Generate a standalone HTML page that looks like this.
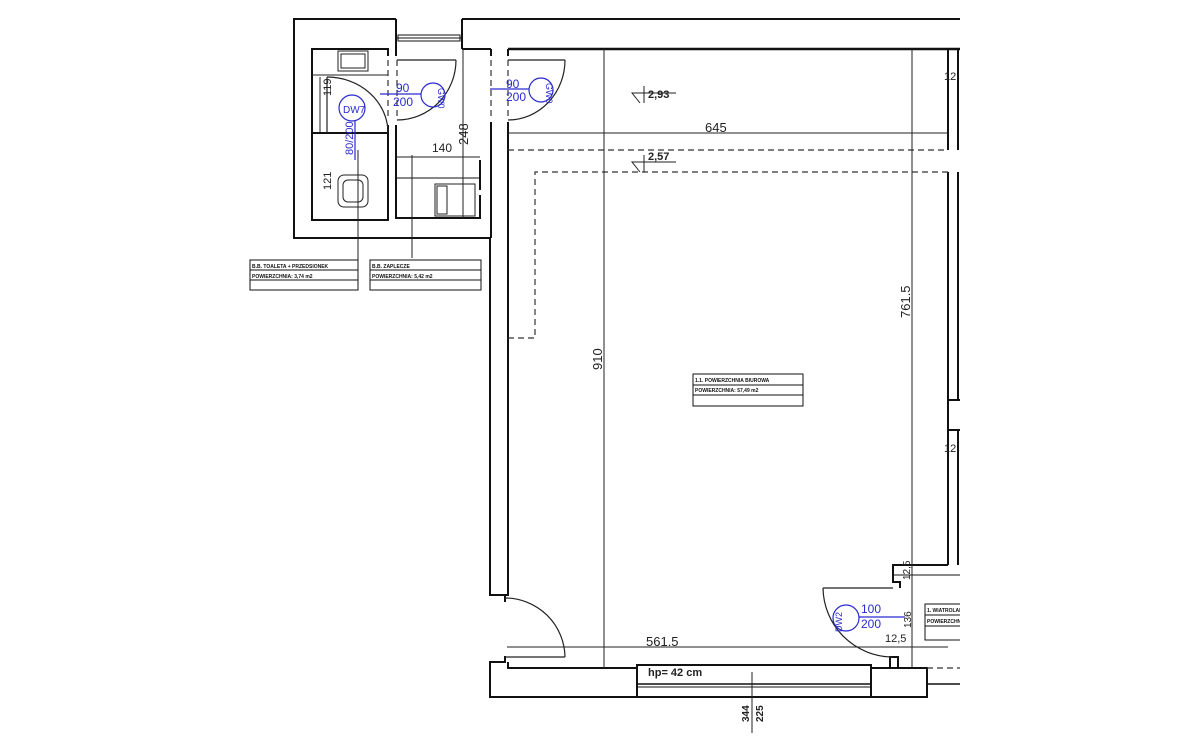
<!DOCTYPE html>
<html><head><meta charset="utf-8"><style>
html,body{margin:0;padding:0;background:#fff}
svg{display:block}
text{font-family:"Liberation Sans",sans-serif}
</style></head><body>
<svg width="1200" height="749" viewBox="0 0 1200 749" xmlns="http://www.w3.org/2000/svg">
<rect width="1200" height="749" fill="#fff"/>
<g fill="none" stroke="#111" stroke-width="2">
<!-- outer left block -->
<polyline points="396,19 294,19 294,238 490,238 490,595 508,595 508,172"/>
<line x1="462" y1="19" x2="960" y2="19"/>
<line x1="396" y1="19" x2="396" y2="49"/>
<line x1="462" y1="19" x2="462" y2="49"/>
<!-- top inner wall -->
<line x1="508" y1="49" x2="960" y2="49" stroke-width="2.5"/>
<line x1="462" y1="49" x2="491" y2="49"/>
<!-- toilet -->
<polyline points="388,56 388,49 312,49 312,220 388,220 388,125"/>
<line x1="312" y1="133" x2="388" y2="133"/>
<line x1="396" y1="49" x2="396" y2="56"/>
<polyline points="396,125 396,218 480,218 480,195"/>
<line x1="480" y1="160" x2="480" y2="190"/>
<line x1="396" y1="157" x2="480" y2="157" stroke-width="1"/>
<line x1="396" y1="178" x2="480" y2="178" stroke-width="1"/>
<!-- corridor walls -->
<line x1="491" y1="49" x2="491" y2="56"/>
<line x1="491" y1="122" x2="491" y2="238"/>
<line x1="508" y1="122" x2="508" y2="172"/>
<line x1="508" y1="49" x2="508" y2="56"/>
<!-- right wall -->
<line x1="948" y1="49" x2="948" y2="150"/>
<line x1="958" y1="49" x2="958" y2="150"/>
<line x1="948" y1="172" x2="948" y2="565"/>
<line x1="958" y1="172" x2="958" y2="400"/>
<line x1="948" y1="400" x2="960" y2="400"/>
<line x1="948" y1="430" x2="960" y2="430"/>
<line x1="958" y1="430" x2="958" y2="565"/>
<polyline points="948,565 893,565 893,582 900,582 900,588"/>
<line x1="893" y1="575" x2="960" y2="575" stroke-width="1"/>
<!-- bottom -->
<polyline points="508,595 505,595 505,602"/>
<polyline points="505,656 505,662 490,662 490,697 637,697 637,668 508,668 508,662"/>
<rect x="637" y="665" width="234" height="32"/>
<line x1="637" y1="684" x2="871" y2="684" stroke-width="1.5"/>
<line x1="637" y1="687" x2="871" y2="687" stroke-width="1"/>
<rect x="871" y="668" width="56" height="29"/>
<rect x="890" y="657" width="8" height="11"/>
<line x1="927" y1="684" x2="960" y2="684" stroke-width="1.5"/>
</g>
<!-- window top -->
<g stroke="#111" fill="none">
<rect x="398" y="35" width="62" height="6" stroke-width="1"/>
<line x1="396" y1="38" x2="462" y2="38" stroke-width="1"/>
</g>
<!-- doors -->
<g fill="none" stroke="#222" stroke-width="1.2">
<line x1="397" y1="60" x2="456" y2="60"/>
<path d="M456,60 A59,60 0 0 1 397,120"/>
<line x1="508" y1="60" x2="565" y2="60"/>
<path d="M565,60 A57,60 0 0 1 508,120"/>
<path d="M327,77 A61,56 0 0 1 388,133"/>
<line x1="327" y1="77" x2="327" y2="133"/>
<path d="M505,598 A60,60 0 0 1 565,657"/>
<line x1="505" y1="657" x2="565" y2="657"/>
<path d="M823,588 A70,70 0 0 0 893,657"/>
<line x1="823" y1="588" x2="893" y2="588"/>
</g>
<g stroke="#333" stroke-width="1.2" stroke-dasharray="6,4" fill="none">
<line x1="388" y1="60" x2="388" y2="120"/>
<line x1="397" y1="60" x2="397" y2="120"/>
<line x1="491" y1="60" x2="491" y2="120"/>
<line x1="508" y1="60" x2="508" y2="120"/>
<line x1="508" y1="150" x2="948" y2="150"/>
<polyline points="948,172 535,172 535,338 508,338"/>
<line x1="927" y1="668" x2="960" y2="668"/>
</g>
<!-- fixtures -->
<g fill="none" stroke="#222" stroke-width="1">
<rect x="338" y="51" width="30" height="20"/>
<rect x="341" y="54" width="24" height="14"/>
<rect x="338" y="175" width="30" height="32" rx="6"/>
<rect x="343" y="180" width="20" height="22" rx="5"/>
<rect x="435" y="184" width="40" height="32"/>
<rect x="437" y="186" width="10" height="28"/>
<line x1="312" y1="75" x2="388" y2="75"/>
</g>
<!-- dimension lines -->
<g stroke="#222" stroke-width="1" fill="none">
<line x1="508" y1="133" x2="948" y2="133"/>
<line x1="604" y1="49" x2="604" y2="668"/>
<line x1="912" y1="49" x2="912" y2="668"/>
<line x1="507" y1="647" x2="948" y2="647"/>
<line x1="396" y1="157" x2="480" y2="157"/>
<line x1="463" y1="49" x2="463" y2="218"/>
<line x1="412" y1="155" x2="412" y2="258"/>
<line x1="358" y1="150" x2="358" y2="260"/>
<line x1="752" y1="672" x2="752" y2="733"/>
<line x1="320" y1="77" x2="320" y2="132"/>
<!-- level marks -->
<polyline points="640,103 632,93 676,93"/>
<line x1="644" y1="86" x2="644" y2="103"/>
<polyline points="640,172 632,162 676,162"/>
<line x1="644" y1="155" x2="644" y2="172"/>
</g>
<g font-size="12" fill="#222">
<text x="705" y="132" font-size="13">645</text>
<text x="646" y="646" font-size="13">561.5</text>
<text x="432" y="152">140</text>
<text x="648" y="98" font-size="11" font-weight="bold">2,93</text>
<text x="648" y="160" font-size="11" font-weight="bold">2,57</text>
<text x="648" y="676" font-size="11" font-weight="bold">hp= 42 cm</text>
<text x="885" y="642" font-size="11">12,5</text>
<text x="944" y="80" font-size="11">12,5</text>
<text x="944" y="452" font-size="11">12,5</text>
<text transform="translate(602,370) rotate(-90)" font-size="13">910</text>
<text transform="translate(910,318) rotate(-90)" font-size="13">761.5</text>
<text transform="translate(468,145) rotate(-90)" font-size="13">248</text>
<text transform="translate(331,96) rotate(-90)" font-size="11">119</text>
<text transform="translate(331,190) rotate(-90)" font-size="11">121</text>
<text transform="translate(911,628) rotate(-90)" font-size="10">136</text>
<text transform="translate(910,580) rotate(-90)" font-size="10">12,5</text>
<text transform="translate(749,722) rotate(-90)" font-size="10" font-weight="bold">344</text>
<text transform="translate(763,722) rotate(-90)" font-size="10" font-weight="bold">225</text>
</g>
<!-- blue door tags -->
<g stroke="#2a2ad0" fill="none" stroke-width="1.2">
<circle cx="433" cy="95" r="12"/>
<line x1="380" y1="94" x2="421" y2="94"/>
<circle cx="541" cy="90" r="12"/>
<line x1="490" y1="89" x2="529" y2="89"/>
<circle cx="352" cy="108" r="13"/>
<line x1="355" y1="121" x2="355" y2="160"/>
<circle cx="846" cy="618" r="13"/>
<line x1="859" y1="617" x2="905" y2="617"/>
</g>
<g fill="#2a2ad0" font-size="12">
<text x="396" y="92">90</text><text x="393" y="106">200</text>
<text x="506" y="88">90</text><text x="506" y="101">200</text>
<text x="861" y="613">100</text><text x="861" y="628">200</text>
<text x="343" y="113" font-size="10">DW7</text>
<text transform="translate(353,155) rotate(-90)" font-size="11">80/200</text>
<text transform="translate(438,88) rotate(90)" font-size="9">GW0</text>
<text transform="translate(546,83) rotate(90)" font-size="9">GW0</text>
<text transform="translate(842,632) rotate(-90)" font-size="9">DW2</text>
</g>
<!-- label boxes -->
<g stroke="#111" fill="#fff" stroke-width="1">
<rect x="250" y="260" width="108" height="30"/>
<line x1="250" y1="270" x2="358" y2="270"/><line x1="250" y1="280" x2="358" y2="280"/>
<rect x="370" y="260" width="111" height="30"/>
<line x1="370" y1="270" x2="481" y2="270"/><line x1="370" y1="280" x2="481" y2="280"/>
<rect x="693" y="374" width="110" height="32"/>
<line x1="693" y1="385" x2="803" y2="385"/><line x1="693" y1="395" x2="803" y2="395"/>
<rect x="925" y="604" width="40" height="36"/>
<line x1="925" y1="615" x2="965" y2="615"/><line x1="925" y1="626" x2="965" y2="626"/>
</g>
<g fill="#111" font-size="5" font-weight="bold">
<text x="252" y="268">B.B. TOALETA + PRZEDSIONEK</text>
<text x="252" y="278">POWIERZCHNIA: 3,74 m2</text>
<text x="372" y="268">B.B. ZAPLECZE</text>
<text x="372" y="278">POWIERZCHNIA: 5,42 m2</text>
<text x="695" y="382">1.1. POWIERZCHNIA BIUROWA</text>
<text x="695" y="392">POWIERZCHNIA: 57,49 m2</text>
<text x="927" y="612">1. WIATROLAP</text>
<text x="927" y="623">POWIERZCHNIA</text>
</g>
<rect x="960" y="0" width="240" height="749" fill="#fff"/>
</svg>
</body></html>
